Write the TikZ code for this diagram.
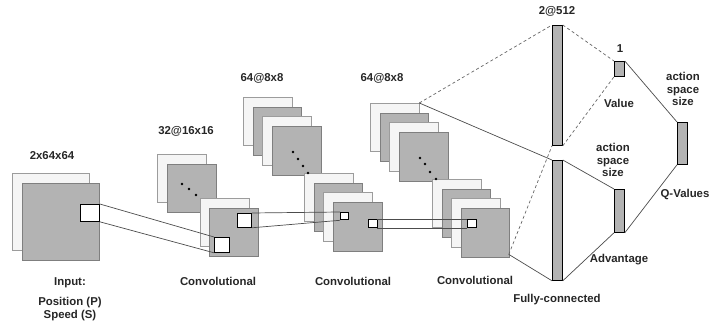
\documentclass[tikz,border=0pt]{standalone}
\usepackage{fontspec}
\setmainfont{Liberation Sans}
\usetikzlibrary{positioning}

\definecolor{mapgray}{HTML}{B3B3B3}
\definecolor{mapedge}{HTML}{7F7F7F}
\definecolor{sheetfill}{HTML}{F5F5F5}
\definecolor{sheetedge}{HTML}{9C9C9C}

\tikzset{
  sheet/.style={draw=sheetedge, fill=sheetfill, line width=0.8pt,
    minimum size=48.5pt, inner sep=0pt, anchor=north west},
  fmap/.style={sheet, draw=mapedge, fill=mapgray},
  patch/.style={draw=black, fill=white, line width=0.8pt, inner sep=0pt, anchor=north west},
  bar/.style={draw=black, fill=mapgray, line width=0.8pt, minimum width=10pt,
    inner sep=0pt, anchor=north west},
  lbl/.style={font=\bfseries\fontsize{11.4}{12.5}\selectfont, align=center, text=black!85},
  link/.style={draw=black!70, line width=0.7pt},
  dlink/.style={link, draw=black!60, dash pattern=on 3pt off 2.5pt},
}

\begin{document}
\begin{tikzpicture}[x=1pt,y=-1pt]
\useasboundingbox (0,0) rectangle (710,328);

% input planes
\node[sheet, minimum size=77pt] (in0) at (12,173) {};
\node[fmap, minimum size=77pt] (in1) at (22,183) {};
\node[patch, minimum width=19pt, minimum height=17pt] (inp) at (80,204) {};

% first conv block
\foreach \i/\s in {0/sheet,1/fmap}
  \node[\s] (c1t\i) at (157+10*\i,154+10*\i) {};
\foreach \i/\s in {0/sheet,1/fmap}
  \node[\s] (c1b\i) at (200+9*\i,198+10*\i) {};
\node[patch, minimum size=15pt] (c1pa) at (214,237) {};
\node[patch, minimum size=14pt] (c1pb) at (237,213) {};

% second and third conv blocks
\foreach \i/\s in {0/sheet,1/fmap,2/sheet,3/fmap}
  \node[\s] (c2t\i) at (243+9.7*\i,97+9.7*\i) {};
\foreach \i/\s in {0/sheet,1/fmap,2/sheet,3/fmap}
  \node[\s] (c2b\i) at (304+9.7*\i,173+9.7*\i) {};
\node[patch, minimum width=8pt, minimum height=7.5pt] (c2pa) at (340,212) {};
\node[patch, minimum size=8.5pt] (c2pb) at (368,219) {};

\foreach \i/\s in {0/sheet,1/fmap,2/sheet,3/fmap}
  \node[\s] (c3t\i) at (370+9.7*\i,103+9.7*\i) {};
\foreach \i/\s in {0/sheet,1/fmap,2/sheet,3/fmap}
  \node[\s] (c3b\i) at (432+9.5*\i,179+9.7*\i) {};
\node[patch, minimum size=8.5pt] (c3p) at (467,219) {};

% dots between the stacks
\foreach \p in {(182,184),(189,189),(196,195),
                (293,152),(298,159),(303,166),(308,173),
                (420,158),(425,164),(430,172),(436,179)}
  \fill \p circle (1.4pt);

% dense layers
\node[bar, minimum height=120pt] (fc1) at (552,25) {};
\node[bar, minimum height=120pt] (fc2) at (552,160) {};
\node[bar, minimum height=15pt] (val) at (614,61) {};
\node[bar, minimum height=43pt] (adv) at (614,189) {};
\node[bar, minimum height=42pt] (qv) at (677,122) {};

% receptive fields
\draw[link] (inp.north east) -- (c1pa.north west);
\draw[link] (inp.south east) -- (c1pa.south west);
\draw[link] (c1pb.north east) -- (c2pa.north west);
\draw[link] (c1pb.south east) -- (c2pa.south west);
\draw[link] (c2pb.north east) -- (c3p.north west);
\draw[link] (c2pb.south east) -- (c3p.south west);

% into the dense part
\coordinate (c3out) at ([xshift=-1pt,yshift=3pt]c3b3.south east);
\draw[dlink] (c3t0.north east) -- (fc1.north west);
\draw[link] (c3t0.north east) -- (fc2.north west);
\draw[dlink] (c3out) -- (fc1.south west);
\draw[link] (c3out) -- (fc2.south west);
\draw[dlink] (fc1.north east) -- (val.north west);
\draw[dlink] (fc1.south east) -- (val.south west);
\draw[link] (fc2.north east) -- (adv.north west);
\draw[link] (fc2.south east) -- (adv.south west);
\draw[link] (val.north east) -- (qv.north west);
\draw[link] (adv.south east) -- (qv.south west);

% labels
\node[lbl] (inlbl) at (52,156) {2x64x64};
\node[lbl] (incap) at (70,283) {Input:};
\node[lbl] (insrc) at (70,309) {Position (P)\\Speed (S)};
\node[lbl] (c1lbl) at (186,131) {32@16x16};
\node[lbl] (c2lbl) at (262,78) {64@8x8};
\node[lbl] (c3lbl) at (382,78) {64@8x8};
\node[lbl] (c1cap) at (218,281) {Convolutional};
\node[lbl] (c2cap) at (353,281) {Convolutional};
\node[lbl] (c3cap) at (475,280) {Convolutional};
\node[lbl] (fclbl) at (557,11) {2@512};
\node[lbl] (fccap) at (557,300) {Fully-connected};
\node[lbl] (vallbl) at (620,49) {1};
\node[lbl] (valcap) at (619,103) {Value};
\node[lbl] (advlbl) at (613,160) {action\\space\\size};
\node[lbl] (advcap) at (619,260) {Advantage};
\node[lbl] (qvlbl) at (683,89) {action\\space\\size};
\node[lbl] (qvcap) at (685,194) {Q-Values};
\end{tikzpicture}
\end{document}
